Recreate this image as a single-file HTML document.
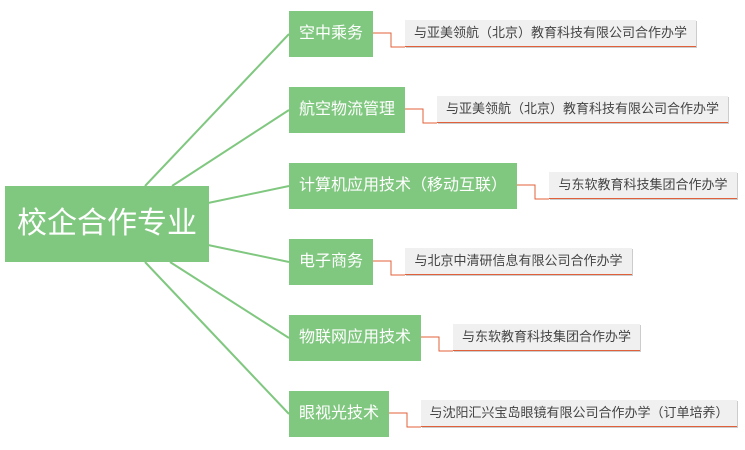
<!DOCTYPE html>
<html><head><meta charset="utf-8"><style>
body{margin:0;width:745px;height:450px;background:#fff;position:relative;overflow:hidden;font-family:"Liberation Sans","Noto Sans CJK SC",sans-serif}
.n{position:absolute;background:#80c780;color:#fff;font-size:16px;line-height:46px;height:46px;text-align:center;white-space:nowrap}
.l{position:absolute;background:#f0f0f0;color:#444;font-size:13px;line-height:26px;height:26px;text-align:center;white-space:nowrap;box-shadow:1px 1px 0 #ccc;border-bottom:1px solid #e0603a}
svg{position:absolute;left:0;top:0}
</style></head><body>
<svg width="745" height="450">
<g stroke="#80c780" stroke-width="2" fill="none">
<line x1="145" y1="186" x2="289" y2="34"/>
<line x1="172" y1="186" x2="289" y2="110"/>
<line x1="208" y1="203" x2="289" y2="186"/>
<line x1="208" y1="245" x2="289" y2="262"/>
<line x1="170" y1="262" x2="289" y2="338"/>
<line x1="145" y1="262" x2="289" y2="414"/>
</g>
<g stroke="#e0603a" stroke-width="1" fill="none">
<polyline points="373,33 391,33 391,47 405,47"/>
<polyline points="405,109 423,109 423,123 437,123"/>
<polyline points="517,185 535,185 535,199 549,199"/>
<polyline points="373,261 391,261 391,275 405,275"/>
<polyline points="421,337 439,337 439,351 453,351"/>
<polyline points="389,413 407,413 407,427 421,427"/>
</g>
</svg>
<div class="n" style="left:5px;top:186px;width:204px;height:76px;line-height:76px;font-size:30px">校企合作专业</div>
<div class="n" style="left:289px;top:11px;width:84px">空中乘务</div>
<div class="n" style="left:289px;top:87px;width:116px">航空物流管理</div>
<div class="n" style="left:289px;top:163px;width:228px">计算机应用技术（移动互联）</div>
<div class="n" style="left:289px;top:239px;width:84px">电子商务</div>
<div class="n" style="left:289px;top:315px;width:132px">物联网应用技术</div>
<div class="n" style="left:289px;top:391px;width:100px">眼视光技术</div>
<div class="l" style="left:405px;top:20px;width:291px">与亚美领航（北京）教育科技有限公司合作办学</div>
<div class="l" style="left:437px;top:96px;width:291px">与亚美领航（北京）教育科技有限公司合作办学</div>
<div class="l" style="left:549px;top:172px;width:188px">与东软教育科技集团合作办学</div>
<div class="l" style="left:405px;top:248px;width:227px">与北京中清研信息有限公司合作办学</div>
<div class="l" style="left:453px;top:324px;width:187px">与东软教育科技集团合作办学</div>
<div class="l" style="left:421px;top:400px;width:316px">与沈阳汇兴宝岛眼镜有限公司合作办学（订单培养）</div>
</body></html>
